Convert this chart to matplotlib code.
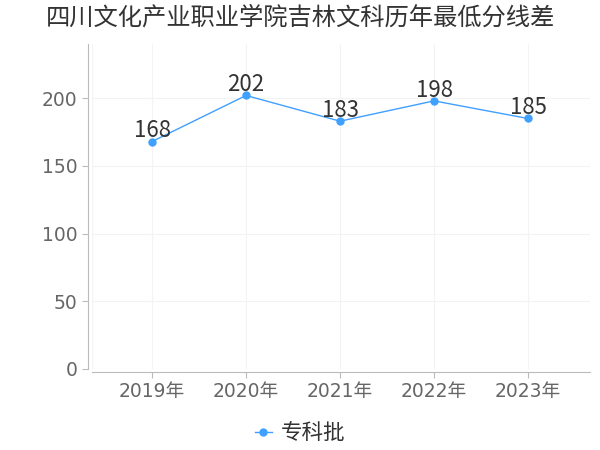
import matplotlib
matplotlib.use("Agg")
import matplotlib.pyplot as plt

plt.rcParams['font.family'] = ['DejaVu Sans', 'Noto Sans CJK SC']

# chart data
years = ['2019年', '2020年', '2021年', '2022年', '2023年']
scores = [168, 202, 183, 198, 185]
series_name = '专科批'
title = '四川文化产业职业学院吉林文科历年最低分线差'
line_color = '#3fa0ff'

fig = plt.figure(figsize=(6, 4.5), dpi=100)
ax = fig.add_axes([0.1533, 0.18, 0.83, 0.7222])

x = list(range(len(years)))
ax.plot(x, scores, color=line_color, lw=1, marker='o', ms=5, label=series_name)
for xi, v in zip(x, scores):
    ax.annotate(str(v), (xi, v), xytext=(0, 3), textcoords='offset points',
                ha='center', va='baseline', fontsize=16, color='#333333',
                family=['Noto Sans CJK SC'])

ax.set_xlim(-0.64, 4.66)
ax.set_ylim(0, 240)
ax.set_xticks(x)
ax.set_xticklabels(years)
ax.set_yticks([0, 50, 100, 150, 200])

# light grid
ax.grid(True, color='#f3f3f3', lw=0.8)
ax.set_axisbelow(True)
for v in [-0.64, 4.66]:
    ax.axvline(v, color='#f3f3f3', lw=0.8, zorder=0)

for s in ['top', 'right']:
    ax.spines[s].set_visible(False)
ax.spines['left'].set_position(('outward', 3))
ax.spines['bottom'].set_position(('outward', 2))
ax.spines['left'].set_color('#bbbbbb')
ax.spines['bottom'].set_color('#bbbbbb')
ax.tick_params(colors='#bbbbbb', labelcolor='#666666', labelsize=13.5, length=4)

fig.suptitle(title, fontsize=17.5, color='#333333', y=0.99,
             family=['Noto Sans CJK SC'])

fig.legend(loc='lower center', bbox_to_anchor=(0.5, -0.03), frameon=False,
           prop={'family': ['Noto Sans CJK SC'], 'size': 15.5},
           handlelength=0.8, handletextpad=0.4, labelcolor='#333333')

fig.savefig('out.png', dpi=100)
